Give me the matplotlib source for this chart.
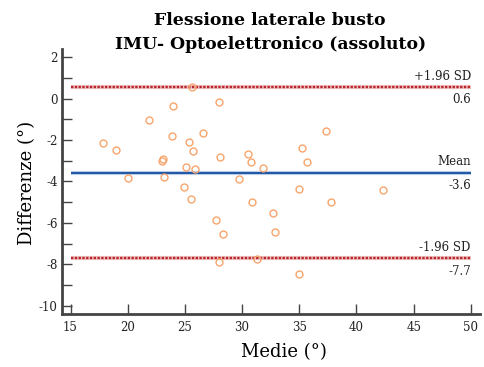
import matplotlib
matplotlib.use("Agg")
import matplotlib.pyplot as plt
from matplotlib.ticker import MultipleLocator

# Bland-Altman: medie (x) e differenze (y)
medie = [25.65, 24.0, 27.95, 21.9, 26.6, 23.9, 17.8, 25.4, 19.0, 25.7,
         28.1, 30.5, 30.8, 23.0, 23.1, 25.06, 25.9, 31.8, 20.05, 23.2,
         29.7, 24.9, 25.5, 30.9, 27.7, 37.3, 35.27, 35.7, 35.0, 42.3,
         37.8, 32.7, 28.36, 32.9, 27.95, 31.3, 35.0]
differenze = [0.55, -0.34, -0.18, -1.03, -1.64, -1.81, -2.15, -2.10, -2.49, -2.51,
              -2.82, -2.65, -3.07, -2.99, -2.93, -3.29, -3.38, -3.36, -3.82, -3.80,
              -3.88, -4.29, -4.87, -4.98, -5.84, -1.57, -2.39, -3.07, -4.34, -4.40,
              -4.97, -5.50, -6.54, -6.46, -7.91, -7.75, -8.48]

mean_diff = -3.59
upper_loa = 0.56
lower_loa = -7.72
line_names = ["+1.96 SD", "Mean", "-1.96 SD"]

FONT = ["DejaVu Serif"]


def main():
    plt.rcParams["font.family"] = FONT
    plt.rcParams["axes.unicode_minus"] = False
    fig = plt.figure(figsize=(4.84, 3.67), dpi=100)
    ax = fig.add_axes([0.1275, 0.1436, 0.8642, 0.7221])

    ax.plot(medie, differenze, "o", markersize=5, markerfacecolor="none",
            markeredgecolor="#f7a56e", markeredgewidth=1.0, zorder=3)

    # halo + line
    ax.hlines(mean_diff, 15, 50, color="#b9cde8", linewidth=3.0, zorder=1)
    ax.hlines(mean_diff, 15, 50, color="#1f55a3", linewidth=1.4, zorder=2)
    for v in (upper_loa, lower_loa):
        ax.hlines(v, 15, 50, color="#f0c4c4", linewidth=3.0, zorder=1)
        ax.hlines(v, 15, 50, color="#b8262c", linewidth=1.7,
                  linestyles=(0, (1, 0.6)), zorder=2)

    for name, v in zip(line_names, [upper_loa, mean_diff, lower_loa]):
        ax.text(50, v + 0.22, name, ha="right", va="bottom", fontsize=8.5,
                color="#222222")
        ax.text(50, v - 0.3, f"{v:.1f}", ha="right", va="top", fontsize=8.5,
                color="#222222")

    ax.set_xlim(14.23, 50.8)
    ax.set_ylim(-10.42, 2.39)
    ax.set_xticks(range(15, 51, 5))
    ax.yaxis.set_major_locator(MultipleLocator(2))
    ax.yaxis.set_minor_locator(MultipleLocator(1))
    ax.tick_params(direction="in", length=7, width=1, color="#444444",
                   labelsize=8.5, labelcolor="#222222", pad=3)
    ax.tick_params(axis="x", pad=5)
    ax.tick_params(which="minor", direction="in", length=7, width=1,
                   color="#444444")

    for s in ("top", "right"):
        ax.spines[s].set_visible(False)
    for s in ("left", "bottom"):
        ax.spines[s].set_linewidth(2)
        ax.spines[s].set_color("#444444")

    fig.text(0.558, 0.932, "Flessione laterale busto", ha="center",
             va="baseline", fontsize=12.4, fontweight="bold")
    fig.text(0.558, 0.866, "IMU- Optoelettronico (assoluto)", ha="center",
             va="baseline", fontsize=12.4, fontweight="bold")
    fig.text(0.587, 0.027, "Medie (°)", ha="center", va="baseline", fontsize=13)
    fig.text(0.055, 0.502, "Differenze (°)", ha="center", va="center",
             rotation=90, fontsize=13)

    fig.savefig("out.png", dpi=100)


if __name__ == "__main__":
    main()
